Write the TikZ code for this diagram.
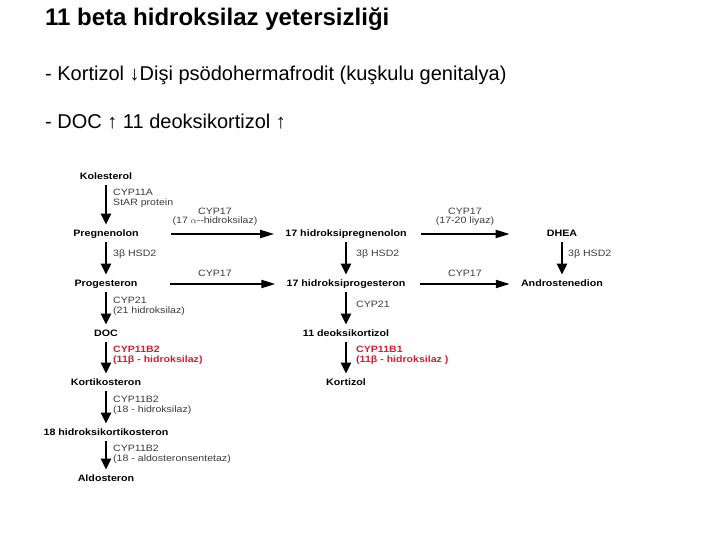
\documentclass[tikz,border=0pt]{standalone}
\usepackage{fontspec}
\setmainfont{Liberation Sans}
\newfontfamily\diagfont[FakeStretch=1.15]{Liberation Sans}
\usetikzlibrary{arrows.meta}
\definecolor{ink}    {HTML}{1A1A1A}
\definecolor{enzred} {HTML}{D0202E}
\tikzset{
  >=stealth,
  % --- nodes
  mol/.style   = {font=\diagfont\fontsize{9.3}{10}\selectfont\bfseries, inner sep=3pt,
                  text height=6.8pt, text depth=1.6pt},
  enz/.style   = {font=\diagfont\fontsize{9.2}{9.5}\selectfont, align=left, text=ink!85,
                  inner sep=0pt, anchor=north west},
  enzr/.style  = {enz, text=enzred, font=\diagfont\fontsize{9.2}{9.5}\selectfont\bfseries},
  enzc/.style  = {enz, anchor=south, align=center},
  headl/.style = {anchor=base west, inner sep=0pt, font=\fontsize{24}{28}\selectfont\bfseries},
  line/.style  = {anchor=base west, inner sep=0pt, font=\fontsize{20}{24}\selectfont},
  % --- edges
  down/.style  = {-{Triangle[width=10pt,length=11pt]}, line width=2.6pt,
                  shorten <=1pt, shorten >=2pt},
  side/.style  = {-{Triangle[width=8pt,length=14pt]}, line width=2pt},
}
\begin{document}
\begin{tikzpicture}[x=1pt,y=-1pt]
  \useasboundingbox (0,0) rectangle (720,540);

  % title and notes
  \node[headl] (title) at (45,26) {11 beta hidroksilaz yetersizliği};
  \node[line] (n1) at (45,81) {- Kortizol ↓Dişi psödohermafrodit (kuşkulu genitalya)};
  \node[line] (n2) at (45,129) {- DOC ↑ 11 deoksikortizol ↑};

  % left column
  \node[mol] (kol)   at (106,177) {Kolesterol};
  \node[mol] (preg)  at (106,234) {Pregnenolon};
  \node[mol] (prog)  at (106,284) {Progesteron};
  \node[mol] (doc)   at (106,334) {DOC};
  \node[mol] (kstr)  at (106,383) {Kortikosteron};
  \node[mol] (hkstr) at (106,433) {18 hidroksikortikosteron};
  \node[mol] (aldo)  at (106,479) {Aldosteron};

  % middle column
  \node[mol] (ohpreg) at (346,234) {17 hidroksipregnenolon};
  \node[mol] (ohprog) at (346,284) {17 hidroksiprogesteron};
  \node[mol] (dkort)  at (346,334) {11 deoksikortizol};
  \node[mol] (kort)   at (346,383) {Kortizol};

  % right column
  \node[mol] (dhea)  at (562,234) {DHEA};
  \node[mol] (andro) at (562,284) {Androstenedion};

  \draw[down] (kol)--(preg);   \draw[down] (preg)--(prog);
  \draw[down] (prog)--(doc);   \draw[down] (doc)--(kstr);
  \draw[down] (kstr)--(hkstr); \draw[down] (hkstr)--(aldo);
  \draw[down] (ohpreg)--(ohprog); \draw[down] (ohprog)--(dkort);
  \draw[down] (dkort)--(kort);
  \draw[down] (dhea)--(andro);

  \draw[side] ([xshift=29pt]preg.east)--([xshift=-8pt]ohpreg.west);
  \draw[side] ([xshift=29pt]prog.east)--([xshift=-8pt]ohprog.west);
  \draw[side] ([xshift=11pt]ohpreg.east)--([xshift=-34pt]dhea.west);
  \draw[side] ([xshift=11pt]ohprog.east)--([xshift=-8pt]andro.west);

  % enzymes
  \node[enz]  (e1) at (113,189) {CYP11A\\StAR protein};
  \node[enz]  (e2) at (113,250) {3β HSD2};
  \node[enz]  (e3) at (113,297) {CYP21\\(21 hidroksilaz)};
  \node[enzr] (e4) at (113,346) {CYP11B2\\(11β - hidroksilaz)};
  \node[enz]  (e5) at (113,396) {CYP11B2\\(18 - hidroksilaz)};
  \node[enz]  (e6) at (113,445) {CYP11B2\\(18 - aldosteronsentetaz)};
  \node[enz]  (e7) at (356,250) {3β HSD2};
  \node[enz]  (e8) at (356,301) {CYP21};
  \node[enzr] (e9) at (356,346) {CYP11B1\\(11β - hidroksilaz )};
  \node[enz]  (e10) at (568,250) {3β HSD2};
  \node[enzc] (e11) at (215,226) {CYP17\\(17 $\alpha$--hidroksilaz)};
  \node[enzc] (e12) at (215,277) {CYP17};
  \node[enzc] (e13) at (465,226) {CYP17\\(17-20 liyaz)};
  \node[enzc] (e14) at (465,277) {CYP17};
\end{tikzpicture}
\end{document}
